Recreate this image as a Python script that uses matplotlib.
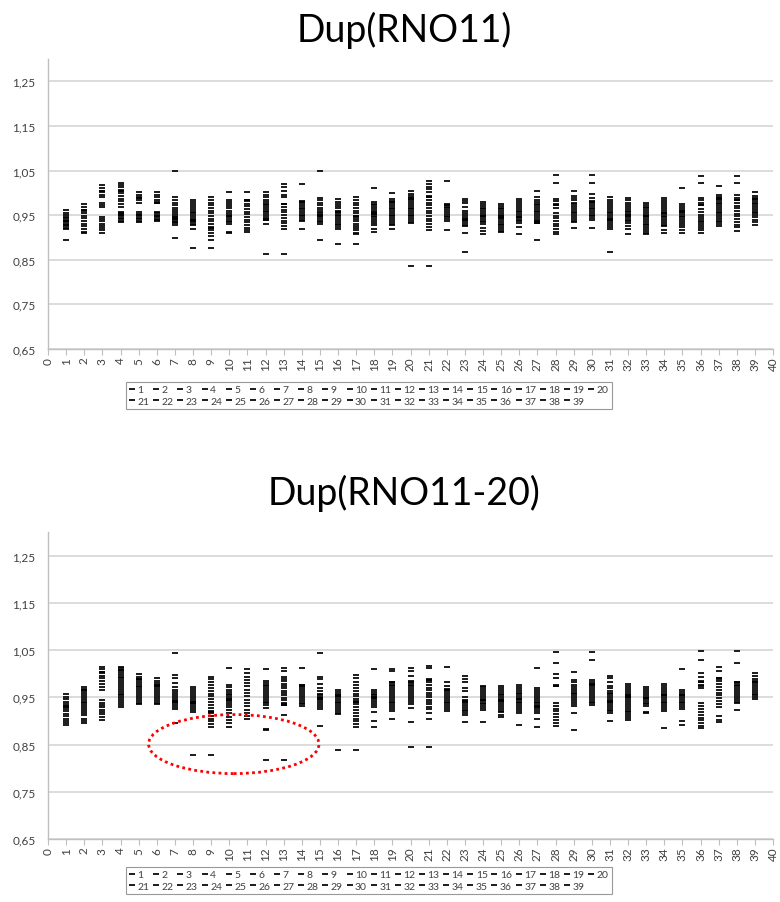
import matplotlib
matplotlib.use("Agg")
import matplotlib.pyplot as plt
from matplotlib.patches import Ellipse
from matplotlib.ticker import FuncFormatter

plt.rcParams['font.family'] = ['Lato', 'DejaVu Sans']

# Probe positions on the x axis and the 39 sample series shown in the legend
positions = list(range(1, 40))
series_names = [str(i) for i in range(1, 40)]
y_ticks = [0.65, 0.75, 0.85, 0.95, 1.05, 1.15, 1.25]
titles = ["Dup(RNO11)", "Dup(RNO11-20)"]

# Ratio values (x1000) at each position, one row per position 1..39
rno11 = [
    [961, 955, 950, 946, 943, 940, 938, 937, 936, 934, 931, 928, 925, 922, 918, 895],
    [974, 968, 962, 961, 960, 955, 949, 943, 937, 931, 925, 919, 913, 909],
    [1017, 1011, 1005, 1004, 1003, 996, 990, 978, 972, 968, 946, 941, 936, 931, 926, 921, 916, 911],
    [1022, 1017, 1012, 1006, 1005, 1004, 999, 993, 987, 981, 975, 969, 958, 955, 952, 950, 947, 944, 941, 938, 935],
    [1001, 996, 990, 989, 988, 983, 977, 956, 953, 950, 947, 944, 941, 938, 935],
    [1001, 996, 991, 985, 979, 978, 977, 957, 954, 951, 948, 945, 942, 939, 936],
    [1048, 990, 984, 978, 972, 966, 961, 957, 953, 949, 946, 943, 942, 941, 938, 935, 932, 929, 898],
    [985, 979, 974, 970, 966, 962, 958, 954, 950, 946, 942, 940, 939, 938, 935, 931, 927, 918, 877],
    [990, 984, 978, 972, 966, 960, 954, 948, 942, 936, 930, 923, 922, 921, 916, 910, 903, 894, 877],
    [1003, 985, 980, 975, 970, 965, 960, 955, 950, 948, 947, 946, 942, 938, 934, 931, 912, 910],
    [1003, 985, 983, 982, 976, 970, 964, 958, 952, 946, 940, 934, 928, 922, 917, 912],
    [1003, 995, 990, 985, 980, 976, 972, 968, 964, 960, 956, 952, 948, 944, 941, 940, 939, 931, 863],
    [1020, 1012, 1005, 996, 990, 976, 975, 974, 968, 962, 956, 950, 944, 938, 932, 926, 919, 863],
    [1020, 981, 980, 979, 975, 971, 967, 963, 959, 955, 951, 947, 943, 939, 937, 920],
    [1048, 989, 984, 978, 972, 966, 962, 958, 954, 951, 950, 949, 946, 942, 938, 934, 931, 894],
    [986, 980, 975, 970, 965, 960, 957, 956, 955, 951, 947, 943, 939, 935, 931, 927, 923, 919, 885],
    [990, 984, 978, 972, 966, 960, 954, 948, 947, 946, 941, 936, 931, 926, 921, 916, 911, 907, 885],
    [1010, 980, 976, 972, 968, 964, 960, 956, 954, 953, 952, 949, 945, 941, 937, 933, 927, 920, 913],
    [1000, 987, 981, 980, 979, 975, 971, 967, 963, 959, 955, 951, 947, 943, 939, 935, 931, 927, 920],
    [1005, 997, 992, 989, 988, 987, 983, 979, 975, 971, 967, 963, 959, 955, 951, 947, 943, 939, 935, 932, 835],
    [1026, 1020, 1014, 1008, 1002, 992, 991, 990, 984, 978, 972, 966, 960, 954, 948, 942, 936, 930, 924, 917, 835],
    [1027, 975, 973, 972, 969, 965, 961, 957, 953, 949, 945, 941, 937, 916],
    [987, 982, 977, 968, 960, 955, 950, 946, 942, 941, 940, 937, 933, 929, 925, 910, 867],
    [979, 975, 971, 967, 963, 959, 955, 951, 948, 947, 946, 942, 938, 934, 930, 922, 915, 908],
    [975, 971, 967, 963, 959, 955, 951, 947, 945, 944, 943, 939, 935, 931, 927, 923, 919, 915, 912],
    [987, 982, 977, 972, 968, 964, 960, 956, 952, 948, 946, 945, 944, 940, 936, 932, 924, 907],
    [1004, 990, 985, 980, 976, 972, 968, 964, 960, 956, 952, 948, 944, 940, 936, 934, 933, 932, 894],
    [1041, 1023, 987, 982, 974, 973, 972, 966, 955, 949, 943, 937, 931, 925, 919, 913, 908],
    [1004, 993, 988, 983, 978, 974, 970, 966, 962, 958, 954, 950, 946, 942, 938, 934, 922],
    [1041, 1023, 997, 989, 981, 980, 979, 975, 971, 967, 963, 959, 955, 951, 947, 943, 939, 921],
    [990, 985, 980, 975, 970, 966, 962, 958, 954, 950, 946, 942, 941, 940, 936, 932, 928, 924, 918, 867],
    [988, 983, 978, 973, 968, 964, 960, 956, 952, 950, 949, 948, 944, 940, 936, 932, 926, 920, 908],
    [977, 973, 969, 965, 961, 957, 953, 949, 948, 947, 943, 939, 935, 931, 927, 923, 919, 915, 911, 908],
    [989, 984, 979, 974, 970, 966, 962, 958, 955, 954, 953, 949, 945, 941, 937, 933, 929, 925, 917, 909],
    [1011, 974, 970, 966, 962, 959, 958, 957, 953, 949, 945, 941, 937, 933, 929, 923, 917, 909],
    [1038, 1022, 989, 984, 977, 973, 972, 964, 958, 950, 946, 942, 938, 934, 930, 926, 922, 917, 909],
    [1015, 995, 990, 988, 987, 986, 982, 978, 974, 970, 966, 962, 958, 954, 950, 946, 942, 938, 934, 930, 925],
    [1038, 1022, 996, 988, 985, 984, 983, 977, 971, 965, 959, 953, 947, 941, 935, 929, 923, 915],
    [1002, 994, 988, 987, 986, 982, 978, 974, 970, 966, 962, 958, 954, 950, 946, 940, 935, 929],
]

rno11_20 = [
    [957, 951, 946, 941, 936, 932, 931, 930, 929, 925, 920, 915, 910, 905, 900, 895, 891],
    [971, 967, 966, 965, 961, 957, 953, 949, 945, 941, 937, 933, 929, 925, 921, 916, 912, 905, 900, 895],
    [1015, 1010, 1004, 1003, 1002, 996, 990, 984, 978, 972, 966, 944, 939, 934, 929, 924, 919, 914, 908, 903],
    [1015, 1011, 1008, 1007, 1006, 1002, 998, 994, 990, 986, 982, 978, 974, 970, 966, 962, 958, 954, 950, 946, 942, 938, 934, 930],
    [999, 994, 989, 988, 987, 983, 979, 975, 971, 967, 963, 959, 955, 951, 947, 943, 939, 935],
    [991, 985, 980, 977, 976, 975, 971, 967, 963, 959, 955, 951, 947, 943, 939, 935],
    [1044, 998, 990, 981, 972, 965, 961, 957, 953, 949, 945, 942, 941, 940, 937, 933, 929, 925, 896],
    [971, 967, 963, 959, 955, 951, 947, 943, 940, 939, 938, 935, 931, 927, 923, 919, 827],
    [994, 988, 982, 976, 970, 964, 958, 952, 946, 940, 934, 928, 922, 919, 918, 917, 911, 905, 899, 893, 888, 827],
    [1013, 976, 971, 966, 962, 958, 954, 950, 947, 946, 945, 942, 938, 934, 930, 923, 916, 909, 902, 895, 888],
    [1010, 1001, 994, 987, 980, 973, 966, 959, 952, 945, 938, 931, 924, 917, 910, 905],
    [1009, 985, 981, 977, 973, 969, 965, 961, 957, 953, 949, 945, 941, 937, 933, 928, 883, 881, 817],
    [1013, 1005, 994, 989, 984, 979, 974, 969, 964, 959, 954, 949, 944, 939, 935, 934, 933, 912, 817],
    [1012, 977, 976, 975, 971, 967, 963, 959, 955, 951, 947, 943, 939, 935, 931],
    [1044, 994, 988, 978, 969, 963, 958, 954, 950, 948, 947, 946, 942, 938, 934, 930, 926, 890],
    [966, 962, 958, 954, 953, 952, 949, 945, 941, 937, 933, 929, 925, 921, 917, 914, 839],
    [998, 990, 983, 976, 970, 964, 958, 952, 946, 942, 941, 940, 935, 929, 923, 917, 911, 905, 899, 893, 888, 839],
    [1010, 966, 962, 958, 954, 951, 950, 949, 946, 942, 938, 934, 930, 918, 900, 888],
    [1010, 1005, 983, 982, 981, 977, 973, 969, 965, 961, 957, 953, 949, 945, 941, 937, 933, 929, 925, 920, 905],
    [1011, 1005, 996, 985, 983, 981, 977, 973, 969, 965, 961, 957, 953, 949, 945, 941, 935, 928, 898, 845],
    [1016, 1011, 988, 987, 986, 982, 976, 970, 965, 960, 955, 950, 945, 940, 935, 930, 925, 916, 905, 845],
    [1015, 983, 975, 967, 966, 965, 961, 957, 953, 949, 945, 941, 937, 933, 929, 925, 922],
    [996, 989, 982, 969, 963, 950, 945, 942, 941, 940, 936, 932, 928, 924, 920, 916, 912, 898],
    [975, 971, 967, 963, 959, 955, 951, 947, 945, 944, 943, 939, 935, 931, 927, 923, 898],
    [974, 970, 966, 962, 958, 954, 950, 946, 944, 943, 942, 938, 934, 930, 926, 922, 918, 913, 909],
    [976, 972, 968, 964, 960, 956, 952, 948, 947, 946, 945, 941, 937, 933, 929, 925, 920, 916, 891],
    [1013, 969, 965, 961, 957, 953, 949, 945, 941, 937, 933, 931, 930, 929, 925, 921, 917, 905, 888],
    [1045, 1023, 999, 990, 976, 975, 974, 938, 932, 926, 920, 914, 908, 902, 896, 889],
    [1004, 987, 982, 977, 972, 968, 964, 960, 956, 952, 948, 944, 940, 936, 932, 917, 881],
    [1045, 1029, 987, 982, 979, 978, 977, 973, 969, 965, 961, 957, 953, 949, 945, 941, 937, 934],
    [996, 990, 983, 975, 969, 964, 960, 956, 952, 948, 944, 942, 941, 940, 936, 932, 928, 924, 920, 916, 900],
    [978, 974, 970, 966, 962, 958, 954, 952, 951, 950, 946, 942, 938, 934, 930, 926, 922, 918, 914, 910, 906, 902],
    [971, 967, 963, 959, 955, 951, 949, 948, 947, 943, 939, 935, 931, 918, 916],
    [978, 974, 970, 966, 962, 958, 955, 954, 953, 949, 945, 941, 937, 933, 929, 925, 920, 885],
    [1010, 966, 962, 958, 955, 954, 953, 949, 945, 941, 937, 933, 929, 925, 900, 891],
    [1049, 1029, 1001, 992, 984, 983, 982, 977, 974, 970, 937, 931, 925, 919, 913, 907, 901, 895, 889, 885],
    [1015, 1006, 991, 990, 989, 984, 978, 972, 966, 960, 954, 948, 942, 936, 930, 910, 903, 898],
    [1049, 1023, 983, 982, 981, 977, 973, 969, 965, 961, 957, 953, 949, 945, 941, 937, 924],
    [1001, 995, 989, 984, 983, 982, 978, 974, 970, 966, 962, 958, 954, 950, 946],
]

W, H = 780, 903
GRID = '#d9d9d9'
AXIS = '#bfbfbf'
TEXT = '#404040'

fig = plt.figure(figsize=(W / 100, H / 100), dpi=100)


def fx(px):
    return px / W


def fy(py):
    return 1 - py / H


def draw_panel(columns, ax_top, ax_bottom, title, title_y, legend_top):
    ax = fig.add_axes([fx(48), fy(ax_bottom), fx(773) - fx(48), fy(ax_top) - fy(ax_bottom)])
    handles = []
    for k, name in enumerate(series_names):
        xs = [positions[i] for i, col in enumerate(columns) if k < len(col)]
        ys = [columns[i][k] / 1000 for i, col in enumerate(columns) if k < len(col)]
        h, = ax.plot(xs, ys, ls='none', marker='_', color='black',
                     ms=4.8, mew=1.25, label=name, zorder=3)
        handles.append(h)

    ax.set_xlim(0, 40)
    ax.set_ylim(0.65, 1.30)
    ax.set_yticks(y_ticks)
    ax.yaxis.set_major_formatter(FuncFormatter(lambda v, _: f"{v:.2f}".replace('.', ',')))
    ax.set_xticks(range(0, 41))
    ax.set_xticklabels([str(i) for i in range(0, 41)], rotation=90)
    ax.yaxis.grid(True, color=GRID, lw=1.3)
    ax.set_axisbelow(True)
    for side in ('top', 'right'):
        ax.spines[side].set_visible(False)
    for side in ('left', 'bottom'):
        ax.spines[side].set_color(AXIS)
        ax.spines[side].set_linewidth(1.0)
    ax.tick_params(axis='y', length=0, pad=9, labelsize=8.5, labelcolor=TEXT)
    ax.tick_params(axis='x', direction='out', length=4, width=0.8, color=AXIS,
                   pad=1.5, labelsize=8.5, labelcolor=TEXT)

    fig.text(fx(404), fy(title_y), title, ha='center', va='center',
             fontsize=27, color='black')

    # Row-major legend order: 1..20 on the first row, 21..39 on the second
    order = []
    for i in range(20):
        order.append(i)
        if i + 20 < len(handles):
            order.append(i + 20)
    leg = fig.legend([handles[i] for i in order], [series_names[i] for i in order],
                     loc='upper left', bbox_to_anchor=(fx(126), fy(legend_top)),
                     ncol=20, fontsize=7.5, frameon=True, fancybox=False,
                     handlelength=0.55, handletextpad=0.25, columnspacing=0.37,
                     labelspacing=0.2, borderpad=0.3, borderaxespad=0,
                     markerscale=0.9)
    leg.get_frame().set_edgecolor('#808080')
    leg.get_frame().set_linewidth(0.8)
    for t in leg.get_texts():
        t.set_color(TEXT)
    return ax


draw_panel(rno11, 60, 350, titles[0], 30, 383)
ax2 = draw_panel(rno11_20, 533, 840, titles[1], 493, 868)

# Highlight the low outliers around positions 7-13
ax2.add_patch(Ellipse((10.25, 0.851), 9.4, 0.125, fill=False, edgecolor='#ff0000',
                      lw=2.0, ls=(0, (1, 1.2)), zorder=4))

fig.savefig('out.png', dpi=100)
